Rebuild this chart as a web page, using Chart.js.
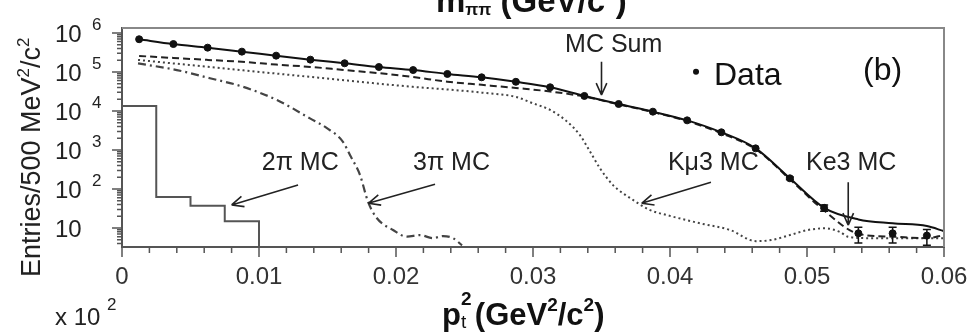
<!DOCTYPE html>
<html>
<head>
<meta charset="utf-8">
<script src="https://cdn.jsdelivr.net/npm/chart.js@4.4.0/dist/chart.umd.min.js"></script>
<style>
  html, body { margin: 0; padding: 0; background: #fff; }
  #wrap { width: 971px; height: 332px; }
</style>
</head>
<body>
<div id="wrap"><canvas id="myChart"></canvas></div>
<script>
// pt^2 bin centres (GeV^2/c^2), bins are 0.0025 wide
const binCenters = [0.00125, 0.00375, 0.00625, 0.00875, 0.01125, 0.01375, 0.01625, 0.01875,
  0.02125, 0.02375, 0.02625, 0.02875, 0.03125, 0.03375, 0.03625, 0.03875,
  0.04125, 0.04375, 0.04625, 0.04875, 0.05125, 0.05375, 0.05625, 0.05875];
const dataCounts = [690000, 520000, 420000, 332000, 262000, 207000, 167000, 134000,
  112000, 89000, 73000, 56000, 40500, 24300, 15100, 9600,
  5750, 2840, 1100, 188, 33, 7.3, 7.3, 6.4];
const dataErrors = [0, 0, 0, 0, 0, 0, 0, 0, 0, 0, 0, 0, 0, 0, 0, 0, 0, 0, 0, 14, 6, 3.2, 3.2, 2.8];

// MC Sum (solid)
const mcSumX = [...binCenters, 0.06];
const mcSumY = [690000, 520000, 420000, 332000, 262000, 207000, 167000, 134000,
  112000, 89000, 73000, 56000, 40500, 24300, 15100, 9600,
  5750, 2840, 1100, 188, 33, 16.6, 13.2, 11.2, 8.3];

// Ke3 MC (dashed)
const ke3X = [...binCenters, 0.06];
const ke3Y = [257000, 229000, 204000, 182000, 155000, 135000, 112000, 93300,
  74100, 56200, 46800, 38900, 31600, 23400, 14800, 9330,
  5500, 2690, 1050, 178, 28, 7.1, 6.0, 5.5, 6.6];

// Kmu3 MC (dotted)
const kmu3X = [0.00117, 0.00372, 0.00628, 0.00876, 0.01124, 0.01372, 0.01628, 0.01876, 0.02124, 0.0238,
  0.02628, 0.02876, 0.03, 0.03124, 0.03248, 0.03343, 0.03416, 0.03489, 0.03584, 0.0373,
  0.03854, 0.03978, 0.04219, 0.04438, 0.04628, 0.04737, 0.04876, 0.05007, 0.05131, 0.05241,
  0.05299, 0.0546, 0.06];
const kmu3Y = [204000, 166000, 136000, 111000, 91200, 74800, 61200, 50100, 41500, 35500,
  29500, 22900, 15700, 10700, 5370, 2400, 912, 339, 126, 52.5,
  28.8, 21.4, 13.2, 8.9, 4.6, 4.9, 6.6, 8.9, 9.8, 7.9,
  6.0, 5.5, 5.5];

// 3pi MC (dash-dot)
const threePiX = [0.00117, 0.004, 0.00642, 0.00883, 0.01131, 0.01372, 0.01496, 0.01613, 0.01664, 0.01737,
  0.01796, 0.01861, 0.01978, 0.0208, 0.02175, 0.0227, 0.02343, 0.02416, 0.02482];
const threePiY = [166000, 112000, 69200, 41700, 19100, 6460, 3630, 1620, 741, 229,
  46.8, 17.8, 8.9, 6.0, 6.6, 5.5, 6.2, 5.5, 3.6];

// 2pi MC (histogram, bin left edges)
const twoPiX = [0, 0, 0.0025, 0.005, 0.0075, 0.01, 0.01];
const twoPiY = [1, 13500, 62, 37, 15, 15, 1];

// axes
const xTickValues = [0, 0.01, 0.02, 0.03, 0.04, 0.05, 0.06];
const xTickLabels = ['0', '0.01', '0.02', '0.03', '0.04', '0.05', '0.06'];
const yTickValues = [10, 100, 1000, 10000, 100000, 1000000];
const yTickExponents = ['', '2', '3', '4', '5', '6'];
const yMin = 3.26;
const yMax = 1.34e6;

// annotations (data coordinates)
const noteLabels = ['2\u03C0 MC', '3\u03C0 MC', 'K\u03BC3 MC', 'Ke3 MC', 'MC Sum'];
const noteX = [0.0102, 0.02124, 0.03985, 0.04993, 0.03234];
const noteY = [307, 307, 307, 307, 326000];
const arrowFromX = [0.01285, 0.02285, 0.04299, 0.05301, 0.035];
const arrowFromY = [127, 132, 148, 148, 184000];
const arrowToX = [0.0080, 0.01798, 0.03793, 0.05301, 0.035];
const arrowToY = [39, 43, 43, 11.9, 25700];

const pts = (xs, ys) => xs.map((x, i) => ({ x: x, y: ys[i] }));

const FONT = '"Liberation Sans", Arial, Helvetica, sans-serif';
Chart.defaults.font.family = FONT;

function richText(ctx, parts, x, y) {
  // parts: [text, font, dy, advance?]
  let cx = x;
  for (const p of parts) {
    ctx.font = p[1];
    ctx.fillText(p[0], cx, y + p[2]);
    if (p[3] !== false) cx += ctx.measureText(p[0]).width;
  }
  return cx;
}

function arrow(ctx, x1, y1, x2, y2) {
  const ang = Math.atan2(y2 - y1, x2 - x1);
  ctx.beginPath();
  ctx.moveTo(x1, y1);
  ctx.lineTo(x2, y2);
  for (const s of [-1, 1]) {
    ctx.moveTo(x2, y2);
    ctx.lineTo(x2 - 13 * Math.cos(ang + s * 0.42), y2 - 13 * Math.sin(ang + s * 0.42));
  }
  ctx.stroke();
}

const decorPlugin = {
  id: 'decor',
  afterDatasetsDraw(chart) {
    const { ctx, scales: { x, y } } = chart;
    // error bars on data
    ctx.save();
    ctx.strokeStyle = '#111';
    ctx.lineWidth = 1.5;
    binCenters.forEach((b, i) => {
      const e = dataErrors[i];
      if (!e) return;
      const px = x.getPixelForValue(b);
      const top = y.getPixelForValue(dataCounts[i] + e);
      const bot = y.getPixelForValue(Math.max(dataCounts[i] - e, yMin));
      ctx.beginPath();
      ctx.moveTo(px, top); ctx.lineTo(px, bot);
      ctx.moveTo(px - 4, top); ctx.lineTo(px + 4, top);
      ctx.moveTo(px - 4, bot); ctx.lineTo(px + 4, bot);
      ctx.stroke();
    });
    ctx.restore();
  },
  afterDraw(chart) {
    const { ctx, chartArea: a, scales: { x, y } } = chart;
    ctx.save();

    // frame top / right
    ctx.strokeStyle = '#888';
    ctx.lineWidth = 2;
    ctx.beginPath();
    ctx.moveTo(a.left, a.top); ctx.lineTo(a.right, a.top); ctx.lineTo(a.right, a.bottom);
    ctx.stroke();

    // x ticks
    ctx.strokeStyle = '#555';
    ctx.lineWidth = 1.5;
    ctx.beginPath();
    for (let i = 0; i <= 30; i++) {
      const px = x.getPixelForValue(i * 0.002);
      ctx.moveTo(px, a.bottom);
      ctx.lineTo(px, a.bottom + (i % 5 === 0 ? 10 : 6));
    }
    // y ticks
    for (let d = 0; d <= 6; d++) {
      for (let m = 1; m <= 9; m++) {
        const v = m * Math.pow(10, d);
        if (v < yMin || v > yMax) continue;
        const py = y.getPixelForValue(v);
        ctx.moveTo(a.left - (m === 1 ? 10 : 5), py);
        ctx.lineTo(a.left, py);
      }
    }
    ctx.stroke();

    ctx.fillStyle = '#222';
    ctx.textBaseline = 'alphabetic';
    ctx.textAlign = 'left';

    // y tick labels
    yTickValues.forEach((v, i) => {
      const py = y.getPixelForValue(v);
      ctx.font = '24px ' + FONT;
      ctx.fillText('10', 55, py + 9);
      if (yTickExponents[i]) {
        ctx.font = '17px ' + FONT;
        ctx.fillText(yTickExponents[i], 92, py - 3);
      }
    });

    // x 10^2
    richText(ctx, [['x 10 ', '24px ' + FONT, 0], ['2', '17px ' + FONT, -15]], 55, 325);

    // y title
    const F27 = '27px ' + FONT, F17 = '17px ' + FONT;
    const yParts = [['Entries/500 MeV', F27, 0], ['2', F17, -11], ['/c', F27, 0], ['2', F17, -11]];
    ctx.save();
    ctx.translate(40, 277);
    ctx.rotate(-Math.PI / 2);
    richText(ctx, yParts, 0, 0);
    ctx.restore();

    // x title
    const B31 = 'bold 31px ' + FONT, B19 = 'bold 19px ' + FONT, N19 = '19px ' + FONT;
    ctx.fillStyle = '#111';
    richText(ctx, [['p', B31, 0], ['2', B19, -20, false], ['t', N19, 3], [' (GeV', B31, 0], ['2', B19, -14],
      ['/c', B31, 0], ['2', B19, -14], [')', B31, 0]], 442, 325);

    // clipped title from the panel above
    const B33 = 'bold 33px ' + FONT, B17 = 'bold 17px ' + FONT;
    richText(ctx, [['m', B33, 0], ['\u03C0\u03C0', B17, 3], [' (GeV/c', B33, 0], ['2', B19, -15], [')', B33, 0]], 436, 12);

    // annotations
    ctx.fillStyle = '#222';
    ctx.strokeStyle = '#222';
    ctx.lineWidth = 1.6;
    ctx.font = '25px ' + FONT;
    noteLabels.forEach((t, i) => {
      ctx.fillText(t, x.getPixelForValue(noteX[i]), y.getPixelForValue(noteY[i]));
      arrow(ctx, x.getPixelForValue(arrowFromX[i]), y.getPixelForValue(arrowFromY[i]),
        x.getPixelForValue(arrowToX[i]), y.getPixelForValue(arrowToY[i]));
    });

    // Data key and panel label
    ctx.fillStyle = '#111';
    ctx.beginPath();
    ctx.arc(x.getPixelForValue(0.0419), y.getPixelForValue(101900), 3, 0, Math.PI * 2);
    ctx.fill();
    ctx.font = '32px ' + FONT;
    ctx.fillText('Data', x.getPixelForValue(0.04321), y.getPixelForValue(46400));
    ctx.fillText('(b)', x.getPixelForValue(0.05409), y.getPixelForValue(62400));

    ctx.restore();
  }
};

const ctx = document.getElementById('myChart');

new Chart(ctx, {
  type: 'line',
  data: {
    datasets: [
      {
        label: 'Data',
        data: pts(binCenters, dataCounts),
        showLine: false,
        pointRadius: 3.5,
        pointBackgroundColor: '#111',
        pointBorderColor: '#111',
        borderColor: '#111'
      },
      {
        label: 'MC Sum',
        data: pts(mcSumX, mcSumY),
        borderColor: '#111',
        borderWidth: 2,
        pointRadius: 0,
        cubicInterpolationMode: 'monotone'
      },
      {
        label: 'Ke3 MC',
        data: pts(ke3X, ke3Y),
        borderColor: '#222',
        borderWidth: 2,
        borderDash: [7, 4],
        pointRadius: 0,
        cubicInterpolationMode: 'monotone'
      },
      {
        label: 'K\u03BC3 MC',
        data: pts(kmu3X, kmu3Y),
        borderColor: '#444',
        borderWidth: 2,
        borderDash: [2, 3],
        pointRadius: 0,
        cubicInterpolationMode: 'monotone'
      },
      {
        label: '3\u03C0 MC',
        data: pts(threePiX, threePiY),
        borderColor: '#444',
        borderWidth: 2.2,
        borderDash: [8, 4, 2, 4],
        pointRadius: 0,
        cubicInterpolationMode: 'monotone'
      },
      {
        label: '2\u03C0 MC',
        data: pts(twoPiX, twoPiY),
        borderColor: '#555',
        borderWidth: 2,
        pointRadius: 0,
        stepped: 'before'
      }
    ]
  },
  options: {
    responsive: true,
    maintainAspectRatio: false,
    animation: false,
    layout: { padding: { top: 28, right: 27, left: 0, bottom: 0 } },
    plugins: {
      legend: { display: false },
      tooltip: { enabled: false }
    },
    scales: {
      x: {
        type: 'linear',
        min: 0,
        max: 0.06,
        grid: { display: false, drawTicks: false },
        border: { display: true, color: '#555', width: 2 },
        afterBuildTicks: s => { s.ticks = xTickValues.map(v => ({ value: v })); },
        ticks: {
          padding: 16,
          color: '#333',
          font: { size: 24 },
          maxRotation: 0,
          autoSkip: false,
          callback: (v, i) => xTickLabels[i]
        },
        afterFit: s => { s.height = 85; s.paddingLeft = 0; s.paddingRight = 0; }
      },
      y: {
        type: 'logarithmic',
        min: yMin,
        max: yMax,
        grid: { display: false, drawTicks: false },
        border: { display: true, color: '#555', width: 2 },
        ticks: { display: false },
        afterFit: s => { s.width = 122; s.paddingTop = 0; s.paddingBottom = 0; }
      }
    }
  },
  plugins: [decorPlugin]
});
</script>
</body>
</html>
